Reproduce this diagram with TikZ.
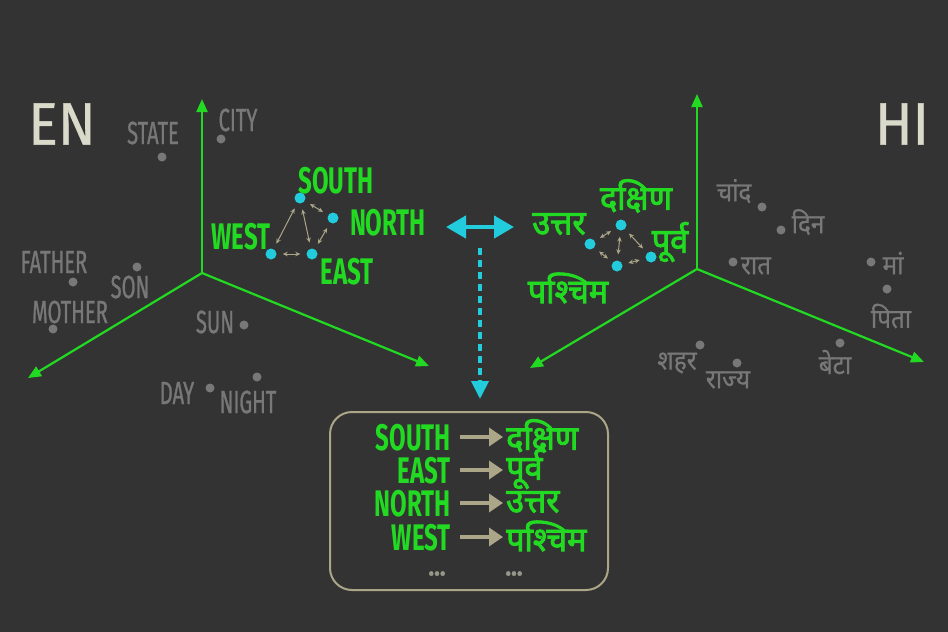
\documentclass[tikz,border=0pt]{standalone}
\usepackage{fontspec}
\usetikzlibrary{arrows.meta}
\setmainfont{Fira Sans}
\newfontfamily\enf{Fira Sans}[FakeStretch=0.65]
\newfontfamily\enm{Fira Sans}[FakeStretch=0.63, FakeBold=0.8]
\newfontfamily\labf{Fira Sans}[FakeStretch=0.92, FakeBold=0.6]
\newfontfamily\hif[Script=Devanagari]{Noto Sans}[FakeStretch=0.9, FakeBold=0.6]
\newfontfamily\hifb[Script=Devanagari]{Noto Sans}[FakeStretch=0.95, FakeBold=2.6]
\definecolor{bg}{RGB}{51,51,51}
\definecolor{grn}{RGB}{34,218,34}
\definecolor{cy}{RGB}{34,204,221}
\definecolor{bei}{RGB}{172,166,136}
\definecolor{wg}{RGB}{120,120,120}
\definecolor{dotc}{RGB}{150,150,138}
\definecolor{lab}{RGB}{218,218,202}
\tikzset{
 gw/.style={text=wg, font=\enm\fontsize{32}{32}\selectfont, inner sep=0},
 gh/.style={text=wg, font=\hif\fontsize{27}{27}\selectfont, inner sep=0},
 gr/.style={text=grn, font=\enf\bfseries\fontsize{37}{37}\selectfont, inner sep=0, text height=26, text depth=0},
 grh/.style={text=grn, font=\hifb\fontsize{34}{34}\selectfont, inner sep=0},
 gdot/.style={circle, fill=wg, inner sep=0, minimum size=9},
 cdot/.style={circle, fill=cy, inner sep=0, minimum size=11},
 axis/.style={draw=grn, line width=2.2, -{Triangle[length=13,width=11]}},
 sml/.style={draw=bei, line width=1, {Stealth[length=5,width=4.5]}-{Stealth[length=5,width=4.5]}, shorten <=6, shorten >=6},
 boxarr/.style={draw=bei, line width=4.5, -{Triangle[length=14,width=18]}},
 biglab/.style={text=lab, font=\labf\fontsize{60}{60}\selectfont, inner sep=0},
 ell/.style={text=dotc, font=\labf\bfseries\fontsize{26}{26}\selectfont, inner sep=0, text height=5, text depth=0},
}
\begin{document}
\begin{tikzpicture}[x=1pt,y=-1pt]
\fill[bg] (0,0) rectangle (948,632);
\useasboundingbox (0,0) rectangle (948,632);
% labels
\node[biglab] (en) at (62,124) {EN};
\node[biglab] (hi) at (902,124) {HI};
% left axes
\coordinate (Lo) at (202,273);
\coordinate (Lu) at (202,99);
\coordinate (Ll) at (28,378);
\coordinate (Lr) at (429,366);
\draw[axis] (Lo) -- (Lu);
\draw[axis] (Lo) -- (Ll);
\draw[axis] (Lo) -- (Lr);
% right axes
\coordinate (Ro) at (697,269);
\coordinate (Ru) at (697,94);
\coordinate (Rl) at (530,368);
\coordinate (Rr) at (924,362);
\draw[axis] (Ro) -- (Ru);
\draw[axis] (Ro) -- (Rl);
\draw[axis] (Ro) -- (Rr);
% gray english words
\node[gw] (state) at (153,133) {STATE};
\node[gdot] (dstate) at (162,157) {};
\node[gw] (city) at (238,120) {CITY};
\node[gdot] (dcity) at (221,139) {};
\node[gw] (father) at (54,262) {FATHER};
\node[gdot] (dfather) at (73,282) {};
\node[gw] (son) at (130,287) {SON};
\node[gdot] (dson) at (137,267) {};
\node[gw] (mother) at (70,312) {MOTHER};
\node[gdot] (dmother) at (53,329) {};
\node[gw] (sun) at (215,322) {SUN};
\node[gdot] (dsun) at (244,325) {};
\node[gw] (day) at (177,393) {DAY};
\node[gdot] (dday) at (210,388) {};
\node[gw] (night) at (248,402) {NIGHT};
\node[gdot] (dnight) at (257,377) {};
% green english cluster
\node[gr] (south) at (336,180) {SOUTH};
\node[gr] (north) at (388,222) {NORTH};
\node[gr] (west) at (241,236) {WEST};
\node[gr] (east) at (347,271) {EAST};
\node[cdot] (ds) at (300,198) {};
\node[cdot] (dn) at (333,218) {};
\node[cdot] (dw) at (271,254) {};
\node[cdot] (de) at (312,254) {};
\draw[sml] (ds) -- (dn);
\draw[sml] (ds) -- (dw);
\draw[sml] (ds) -- (de);
\draw[sml] (dn) -- (de);
\draw[sml] (dw) -- (de);
% cyan arrows
\coordinate (ha) at (446,227);
\coordinate (hb) at (514,227);
\draw[cy, line width=4.5, {Triangle[length=20,width=22]}-{Triangle[length=20,width=22]}] (ha) -- (hb);
\coordinate (va) at (480,248);
\coordinate (vb) at (480,399);
\draw[cy, line width=4, dash pattern=on 7 off 5, -{Triangle[length=18,width=17]}] (va) -- (vb);
% gray hindi words
\node[gh] (chand) at (734,191) {चांद};
\node[gdot] (dchand) at (762,207) {};
\node[gh] (din) at (808,222) {दिन};
\node[gdot] (ddin) at (781,230) {};
\node[gh] (raat) at (756,266) {रात};
\node[gdot] (draat) at (733,262) {};
\node[gh] (maa) at (893,263) {मां};
\node[gdot] (dmaa) at (871,262) {};
\node[gh] (pita) at (891,316) {पिता};
\node[gdot] (dpita) at (887,289) {};
\node[gh] (shahar) at (677,363) {शहर};
\node[gdot] (dshahar) at (700,345) {};
\node[gh] (rajya) at (728,380) {राज्य};
\node[gdot] (drajya) at (737,363) {};
\node[gh] (beta) at (835,362) {बेटा};
\node[gdot] (dbeta) at (840,343) {};
% green hindi cluster
\node[grh] (dakshin) at (636,196) {दक्षिण};
\node[grh] (uttar) at (559,224) {उत्तर};
\node[grh] (purv) at (670,242) {पूर्व};
\node[grh] (pashchim) at (568,288) {पश्चिम};
\node[cdot] (hd) at (621,225) {};
\node[cdot] (hu) at (590,244) {};
\node[cdot] (hp) at (617,266) {};
\node[cdot] (hpv) at (651,257) {};
\draw[sml] (hd) -- (hu);
\draw[sml] (hd) -- (hp);
\draw[sml] (hd) -- (hpv);
\draw[sml] (hu) -- (hp);
\draw[sml] (hp) -- (hpv);
% dictionary box
\node[draw=bei, line width=2, rounded corners=22, minimum width=278, minimum height=178, inner sep=0] (box) at (469,501) {};
\node[gr, anchor=east] (bs) at (451,437) {SOUTH};
\node[gr, anchor=east] (be) at (451,470) {EAST};
\node[gr, anchor=east] (bn) at (451,503) {NORTH};
\node[gr, anchor=east] (bw) at (451,537) {WEST};
\node[grh, anchor=west] (hs) at (506,436) {दक्षिण};
\node[grh, anchor=west] (he) at (506,469) {पूर्व};
\node[grh, anchor=west] (hn) at (506,502) {उत्तर};
\node[grh, anchor=west] (hw) at (506,536) {पश्चिम};
\draw[boxarr] (bs.east) ++(9,0) -- ++(43,0);
\draw[boxarr] (be.east) ++(9,0) -- ++(43,0);
\draw[boxarr] (bn.east) ++(9,0) -- ++(43,0);
\draw[boxarr] (bw.east) ++(9,0) -- ++(43,0);
\node[ell] (dots1) at (437,573) {...};
\node[ell] (dots2) at (514,573) {...};
\end{tikzpicture}
\end{document}
